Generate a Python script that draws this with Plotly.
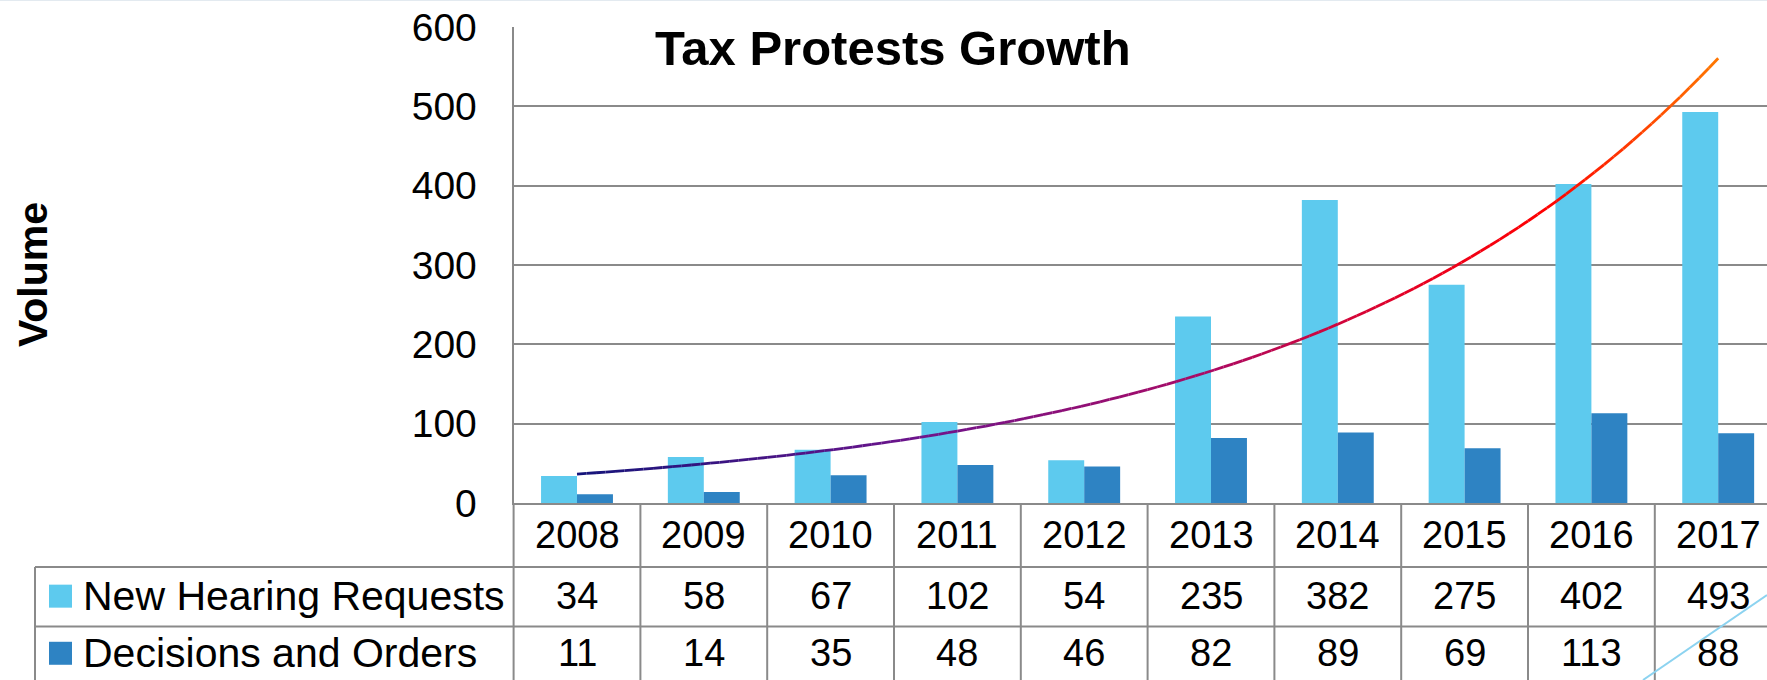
import numpy as np
import plotly.graph_objects as go

# ---------------- data ----------------
years = ["2008", "2009", "2010", "2011", "2012", "2013", "2014", "2015", "2016", "2017"]
new_requests = [34, 58, 67, 102, 54, 235, 382, 275, 402, 493]
decisions = [11, 14, 35, 48, 46, 82, 89, 69, 113, 88]
series_names = ["New Hearing Requests", "Decisions and Orders"]
y_ticks = [0, 100, 200, 300, 400, 500, 600]
title_text = "Tax Protests Growth"
y_title = "Volume"

# ---------------- layout constants (pixels) ----------------
W, H = 1767, 680
PLOT_LEFT = 513.6      # left edge of plot area
CAT_PX = 126.8         # width of one category
AXIS_BOTTOM = 503.0    # y pixel of value 0
AXIS_TOP = 27.0        # y pixel of value 600
TABLE_LEFT = 35.0
ROW0, ROW_PX = 507.5, 59.5

LIGHT = "#5DCAEE"
DARK = "#2E83C3"
GRID = "#8A8A8A"
FONT = "Liberation Sans"

x = np.arange(len(years))
xr = [-0.5, -0.5 + (W - PLOT_LEFT) / CAT_PX]
x2r = [-0.5 - PLOT_LEFT / CAT_PX, xr[1]]
y2r = [(H - ROW0) / ROW_PX, (AXIS_BOTTOM - ROW0) / ROW_PX]


def px_x2(p):
    return x2r[0] + p / CAT_PX


fig = go.Figure()

# bars
fig.add_trace(go.Bar(x=x, y=new_requests, name=series_names[0], marker=dict(color=LIGHT, line=dict(width=0)),
                     xaxis="x", yaxis="y", showlegend=False))
fig.add_trace(go.Bar(x=x, y=decisions, name=series_names[1], marker=dict(color=DARK, line=dict(width=0)),
                     xaxis="x", yaxis="y", showlegend=False))

# exponential trendline fitted to New Hearing Requests (as in the source chart)
b, a = np.polyfit(x, np.log(new_requests), 1)
xs = np.linspace(x[0], x[-1], 121)
ys = np.exp(a + b * xs)

stops = [(0.0, (20, 20, 122)), (0.3, (110, 20, 140)), (0.55, (170, 10, 100)),
         (0.75, (235, 0, 30)), (0.85, (255, 0, 0)), (1.0, (255, 120, 0))]


def grad(t):
    for (t0, c0), (t1, c1) in zip(stops[:-1], stops[1:]):
        if t0 <= t <= t1:
            f = (t - t0) / (t1 - t0)
            c = [round(c0[i] + (c1[i] - c0[i]) * f) for i in range(3)]
            return "rgb(%d,%d,%d)" % tuple(c)
    return "rgb(%d,%d,%d)" % stops[-1][1]


n_seg = len(xs) - 1
for i in range(n_seg):
    fig.add_trace(go.Scatter(x=xs[i:i + 2], y=ys[i:i + 2], mode="lines",
                             line=dict(color=grad((i + 0.5) / n_seg), width=2.8),
                             xaxis="x", yaxis="y", showlegend=False, hoverinfo="skip"))

# legend keys inside the data table
key_x = px_x2(60.5)
row_y = [0.46, 1.49, 2.45]
fig.add_trace(go.Scatter(x=[key_x, key_x], y=row_y[1:], mode="markers",
                         marker=dict(symbol="square", size=23, color=[LIGHT, DARK], line=dict(width=0)),
                         xaxis="x2", yaxis="y2", showlegend=False, hoverinfo="skip"))

# ---------------- data table ----------------
shapes = []
for i in range(len(years) + 1):
    shapes.append(dict(type="line", xref="x2", yref="y2", x0=i - 0.5, x1=i - 0.5, y0=y2r[1], y1=y2r[0],
                       line=dict(color=GRID, width=2)))
shapes.append(dict(type="line", xref="x2", yref="y2", x0=px_x2(TABLE_LEFT), x1=px_x2(TABLE_LEFT),
                   y0=1, y1=y2r[0], line=dict(color=GRID, width=2)))
for r in (1, 2):
    shapes.append(dict(type="line", xref="x2", yref="y2", x0=px_x2(TABLE_LEFT), x1=x2r[1], y0=r, y1=r,
                       line=dict(color=GRID, width=2)))
# faint decorative lines from the source slide
shapes.append(dict(type="line", xref="paper", yref="paper", x0=1643 / W, x1=1.0, y0=0, y1=(H - 595) / H,
                   line=dict(color="#8CD3F0", width=2)))
shapes.append(dict(type="line", xref="paper", yref="paper", x0=0, x1=1, y0=1, y1=1,
                   line=dict(color="#E3EAF0", width=2)))

annotations = []
for i, yr in enumerate(years):
    annotations.append(dict(x=i, y=row_y[0], xref="x2", yref="y2", text=yr, showarrow=False,
                            font=dict(family=FONT, size=38, color="black")))
    annotations.append(dict(x=i, y=row_y[1], xref="x2", yref="y2", text=str(new_requests[i]), showarrow=False,
                            font=dict(family=FONT, size=38, color="black")))
    annotations.append(dict(x=i, y=row_y[2], xref="x2", yref="y2", text=str(decisions[i]), showarrow=False,
                            font=dict(family=FONT, size=38, color="black")))
for k, name in enumerate(series_names):
    annotations.append(dict(x=px_x2(81), y=row_y[k + 1], xref="x2", yref="y2", text=name, showarrow=False,
                            xanchor="left", font=dict(family=FONT, size=41, color="black")))

annotations.append(dict(x=653 / W, y=1 - 48 / H, xref="paper", yref="paper", text="<b>%s</b>" % title_text,
                        showarrow=False, xanchor="left", yanchor="middle",
                        font=dict(family=FONT, size=49, color="black")))
annotations.append(dict(x=33 / W, y=1 - 275 / H, xref="paper", yref="paper", text="<b>%s</b>" % y_title,
                        showarrow=False, textangle=-90, xanchor="center", yanchor="middle",
                        font=dict(family=FONT, size=41, color="black")))

fig.update_layout(
    width=W, height=H, autosize=False,
    margin=dict(l=0, r=0, t=0, b=0, pad=0),
    paper_bgcolor="white", plot_bgcolor="white",
    barmode="group", bargap=0.433, bargroupgap=0,
    showlegend=False, hovermode=False,
    shapes=shapes, annotations=annotations,
    xaxis=dict(domain=[PLOT_LEFT / W, 1], range=xr, showgrid=False, zeroline=False, automargin=False,
               showticklabels=False, ticks="", showline=True, linecolor=GRID, linewidth=2, anchor="y"),
    yaxis=dict(domain=[(H - AXIS_BOTTOM) / H, (H - AXIS_TOP) / H], range=[0, 600], tickvals=y_ticks,
               showgrid=True, gridcolor=GRID, gridwidth=2, zeroline=False, showline=True, automargin=False,
               linecolor=GRID, linewidth=2, ticks="", ticklabelstandoff=27,
               tickfont=dict(family=FONT, size=39, color="black"), anchor="x"),
    xaxis2=dict(domain=[0, 1], range=x2r, visible=False, anchor="y2", automargin=False),
    yaxis2=dict(domain=[0, (H - AXIS_BOTTOM) / H], range=y2r, visible=False, anchor="x2", automargin=False),
)

fig.write_html("out.html")
